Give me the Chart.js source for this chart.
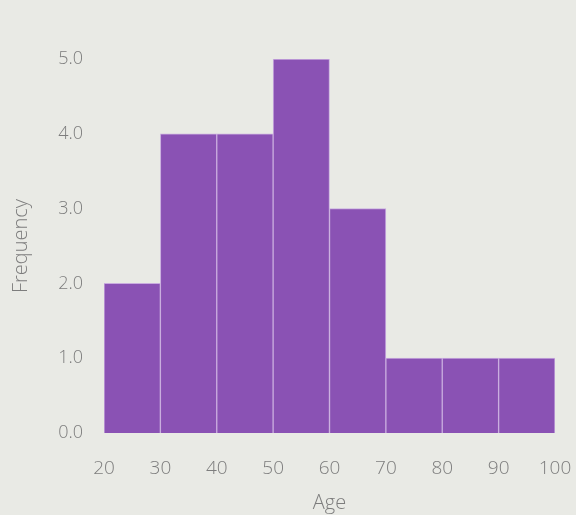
<!DOCTYPE html>
<html>
<head>
<meta charset="utf-8">
<script src="https://cdn.jsdelivr.net/npm/chart.js@4"></script>
<style>
  html, body { margin: 0; padding: 0; background: #e9eae5; }
  #wrap { width: 576px; height: 515px; }
</style>
</head>
<body>
<div id="wrap"><canvas id="histChart" width="576" height="515"></canvas></div>
<script>
const binStarts = [20, 30, 40, 50, 60, 70, 80, 90];
const binWidth = 10;
const frequencies = [2, 4, 4, 5, 3, 1, 1, 1];
const xTicks = [20, 30, 40, 50, 60, 70, 80, 90, 100];
const yTicks = [0, 1, 2, 3, 4, 5];

const textColor = "#7d7d7d";
const fontFamily = "'Open Sans', sans-serif";

const points = binStarts.map((start, i) => ({ x: start + binWidth / 2, y: frequencies[i] }));

const ctx = document.getElementById("histChart").getContext("2d");
const chart = new Chart(ctx, {
  type: "bar",
  data: {
    datasets: [
      {
        label: "Frequency",
        data: points,
        backgroundColor: "#8a52b4",
        borderColor: "#c9acdf",
        borderWidth: 1,
        barPercentage: 1,
        categoryPercentage: 1,
      },
    ],
  },
  options: {
    responsive: false,
    animation: false,
    layout: { padding: { left: 0, right: 21, top: 59, bottom: 0 } },
    plugins: { legend: { display: false }, tooltip: { enabled: false } },
    scales: {
      x: {
        type: "linear",
        min: 20,
        max: 100,
        offset: false,
        grid: { display: false, drawTicks: false },
        border: { display: false },
        afterBuildTicks: (axis) => { axis.ticks = xTicks.map((v) => ({ value: v })); },
        afterFit: (axis) => {
          axis.height = 82;
          axis.paddingRight = 0;
          axis.paddingLeft = 0;
        },
        ticks: { color: textColor, font: { family: fontFamily, size: 19, weight: 300 }, padding: 24 },
        title: { display: true, text: "Age", color: textColor, font: { family: fontFamily, size: 20, weight: 300 }, padding: { top: 4, bottom: 0 } },
      },
      y: {
        min: 0,
        max: 5,
        grid: { display: false, drawTicks: false },
        border: { display: false },
        afterBuildTicks: (axis) => { axis.ticks = yTicks.map((v) => ({ value: v })); },
        afterFit: (axis) => {
          axis.width = 104;
          axis.paddingTop = 0;
          axis.paddingBottom = 0;
        },
        ticks: {
          color: textColor,
          font: { family: fontFamily, size: 18, weight: 300 },
          padding: 21,
          callback: (v) => v.toFixed(1),
        },
        title: { display: true, text: "Frequency", color: textColor, font: { family: fontFamily, size: 20, weight: 300 }, padding: { top: 9, bottom: 0 } },
      },
    },
  },
});
</script>
</body>
</html>
